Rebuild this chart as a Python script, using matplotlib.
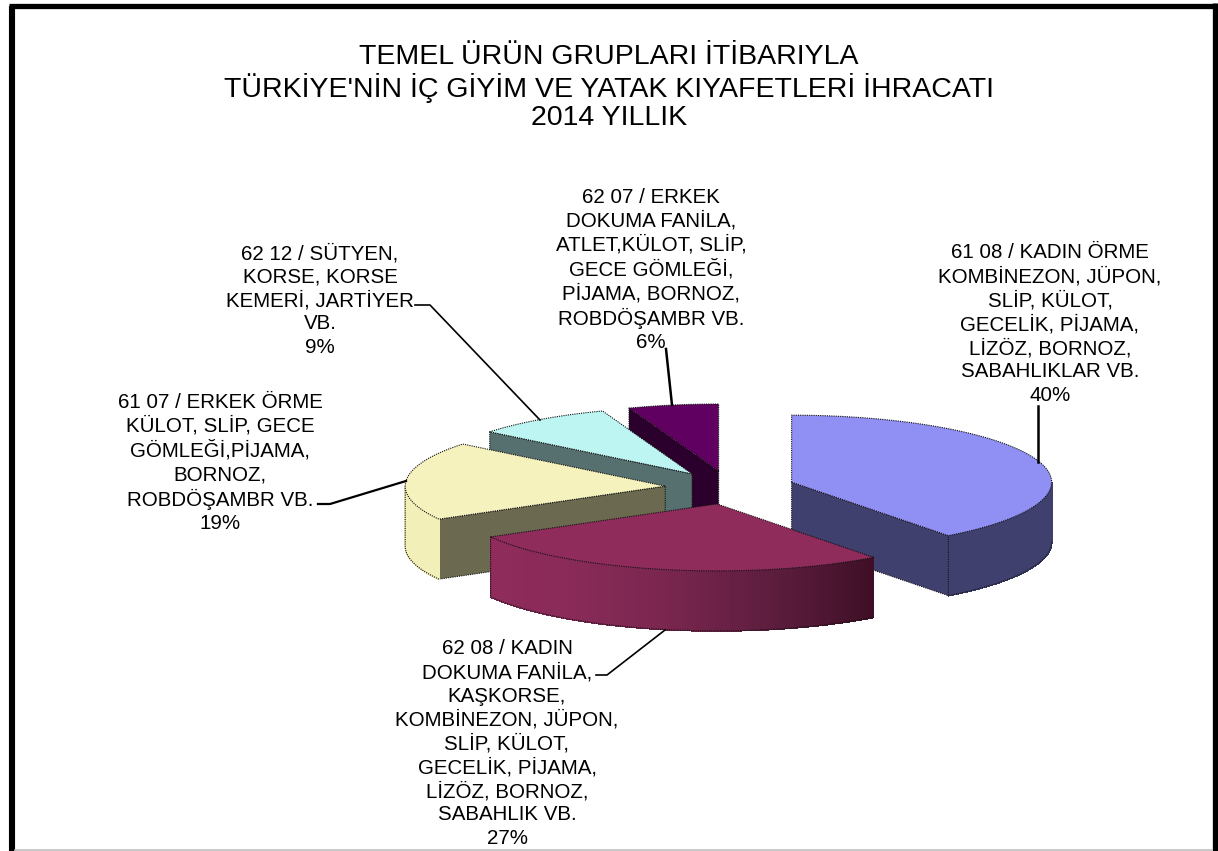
import numpy as np
import matplotlib
matplotlib.use('Agg')
import matplotlib.pyplot as plt
from matplotlib.colors import LinearSegmentedColormap
from matplotlib.patches import Polygon, Rectangle

plt.rcParams['font.family'] = ['Liberation Sans', 'DejaVu Sans']

# shares, going clockwise from 12 o'clock
values = [39.7, 27.1, 19.0, 8.6, 5.6]
names = [
    "61 08 / KADIN ÖRME\nKOMBİNEZON, JÜPON,\nSLİP, KÜLOT,\nGECELİK, PİJAMA,\nLİZÖZ, BORNOZ,\nSABAHLIKLAR VB.",
    "62 08 / KADIN\nDOKUMA FANİLA,\nKAŞKORSE,\nKOMBİNEZON, JÜPON,\nSLİP, KÜLOT,\nGECELİK, PİJAMA,\nLİZÖZ, BORNOZ,\nSABAHLIK VB.",
    "61 07 / ERKEK ÖRME\nKÜLOT, SLİP, GECE\nGÖMLEĞİ,PİJAMA,\nBORNOZ,\nROBDÖŞAMBR VB.",
    "62 12 / SÜTYEN,\nKORSE, KORSE\nKEMERİ, JARTİYER\nVB.",
    "62 07 / ERKEK\nDOKUMA FANİLA,\nATLET,KÜLOT, SLİP,\nGECE GÖMLEĞİ,\nPİJAMA, BORNOZ,\nROBDÖŞAMBR VB.",
]
title = "TEMEL ÜRÜN GRUPLARI İTİBARIYLA\nTÜRKİYE'NİN İÇ GİYİM VE YATAK KIYAFETLERİ İHRACATI\n2014 YILLIK"

top_colors = ['#8f8ff4', '#8f2c5c', '#f5f2be', '#bdf5f2', '#600060']
wall_colors = ['#40406f', '#40406f', '#6b6a50', '#566f6f', '#2c002c']
rim_colors = [
    ['#40406f', '#40406f'],
    ['#3f0f26', '#5c1d3d', '#7a264f', '#8a2b59', '#8f2c5c'],
    ['#f2efb8', '#f2efb8'],
    ['#566f6f', '#566f6f'],
    ['#2c002c', '#2c002c'],
]

# pie geometry, in pixels
cx, cy = 730, 487.5
rx, ry = 260, 67
depth = 60
explode = 0.25


def point(ang, ox, oy):
    return ox + rx * np.sin(ang), oy - ry * np.cos(ang)


def face(ax, xs, ys, color, z):
    ax.add_patch(Polygon(np.column_stack([xs, ys]), closed=True, facecolor=color, edgecolor='none', zorder=z))
    ax.plot(list(xs) + [xs[0]], list(ys) + [ys[0]], color='#111111', lw=0.8, ls=(0, (1, 1)), zorder=z + 0.5)


fig = plt.figure(figsize=(12.18, 8.51), dpi=100)
ax = fig.add_axes([0, 0, 1, 1])
ax.set_xlim(0, 1218)
ax.set_ylim(851, 0)
ax.axis('off')

# frame
ax.add_patch(Rectangle((9, 3), 1204, 900, facecolor='white', edgecolor='none', zorder=0))
ax.plot([12, 12], [851, 5.5], color='black', lw=4.4, solid_capstyle='butt', zorder=1)
ax.plot([9, 1217], [5.5, 5.5], color='black', lw=3.8, solid_capstyle='butt', zorder=1)
ax.plot([1214.5, 1214.5], [3, 851], color='black', lw=3.8, solid_capstyle='butt', zorder=1)
ax.plot([15, 1212], [850.2, 850.2], color='#c0c0c0', lw=1.2, zorder=1)

ax.text(609, 87.5, title, ha='center', va='center', fontsize=20.5, linespacing=1.12, color='black')

# slice angles
total = sum(values)
edges = np.radians(np.concatenate([[0], np.cumsum(values)]) / total * 360)

# back slices first, the front one last
z = 3
for i in [4, 3, 2, 0, 1]:
    a0, a1 = edges[i], edges[i + 1]
    mid = (a0 + a1) / 2
    ox = cx + explode * rx * np.sin(mid)
    oy = cy - explode * ry * np.cos(mid)

    # radial walls
    for ang, visible in [(a0, np.sin(a0) < -1e-6), (a1, np.sin(a1) > 1e-6)]:
        if visible:
            px, py = point(ang, ox, oy)
            face(ax, [ox, px, px, ox], [oy, py, py + depth, oy + depth], wall_colors[i], z)
    z += 1

    # outer rim, only the part facing us
    lo, hi = max(a0, np.pi / 2), min(a1, 3 * np.pi / 2)
    if hi > lo:
        cmap = LinearSegmentedColormap.from_list('rim', rim_colors[i])
        angs = np.linspace(lo, hi, 120)
        for j in range(len(angs) - 1):
            x0, y0 = point(angs[j], ox, oy)
            x1, y1 = point(angs[j + 1], ox, oy)
            ax.add_patch(Polygon([[x0, y0], [x1, y1], [x1, y1 + depth], [x0, y0 + depth]], closed=True,
                                 facecolor=cmap(j / 118), edgecolor=cmap(j / 118), lw=0.6, antialiased=False, zorder=z))
        xa, ya = point(angs, ox, oy)
        ax.plot(np.r_[xa[0], xa, xa[-1]], np.r_[ya[0] + depth, ya + depth, ya[-1]], color='#111111', lw=0.8,
                ls=(0, (1, 1)), zorder=z + 0.5)
    z += 1

    # top face
    angs = np.linspace(a0, a1, 120)
    xa, ya = point(angs, ox, oy)
    face(ax, np.r_[ox, xa], np.r_[oy, ya], top_colors[i], z)
    z += 1

# labels with their leader lines
label_pos = [(1050, 324), (507, 743.5), (220, 463), (320, 300), (651, 270)]
leaders = [
    ([1038, 1038], [462, 406], 1.8),
    ([665, 607, 596], [630, 675, 675], 1.2),
    ([406, 330, 318], [481, 504, 504], 1.6),
    ([540, 430, 415], [420, 305, 305], 1.2),
    ([672, 666], [405, 349], 1.8),
]
for i in range(len(values)):
    x, y = label_pos[i]
    ax.text(x, y, names[i] + "\n%.0f%%" % values[i], ha='center', va='center', fontsize=14.8, linespacing=1.28,
            color='black', zorder=60)
    lx, ly, lw = leaders[i]
    ax.plot(lx, ly, color='black', lw=lw, zorder=59)

fig.savefig('out.png', dpi=100)
